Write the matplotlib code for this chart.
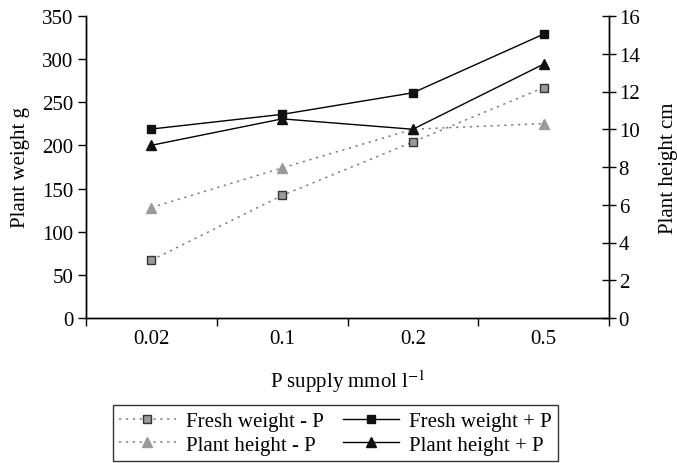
import numpy as np
import matplotlib
matplotlib.use("Agg")
from matplotlib import pyplot as plt

plt.rcParams['font.family'] = ['Liberation Serif', 'DejaVu Serif']
plt.rcParams['mathtext.fontset'] = 'stix'

categorias = ["0.02", "0.1", "0.2", "0.5"]
peso_menos_p = [67, 142, 204, 267]       # g
peso_mas_p = [219, 236, 261, 329]        # g
altura_menos_p = [5.85, 7.95, 10.0, 10.3]   # cm
altura_mas_p = [9.15, 10.55, 10.0, 13.45]   # cm

x = np.arange(len(categorias))
fs = 15

fig = plt.figure(figsize=(6.77, 4.64), dpi=100)
ax = fig.add_axes([86/677, 1 - 319/464, (609 - 86)/677, (319 - 17)/464])
ax2 = ax.twinx()

gris_linea = "#808080"
gris = "#9a9a9a"

l1, = ax.plot(x, peso_menos_p, linestyle=(0, (1.5, 3)), color=gris_linea, lw=1.1,
              marker="s", ms=5.5, mfc=gris, mec="#333333", mew=1.0)
l2, = ax.plot(x, peso_mas_p, color="black", lw=1.0,
              marker="s", ms=6, mfc="#111111", mec="#111111")
l3, = ax2.plot(x, altura_menos_p, linestyle=(0, (1.5, 3)), color=gris_linea, lw=1.1,
               marker="^", ms=7, mfc=gris, mec=gris)
l4, = ax2.plot(x, altura_mas_p, color="black", lw=1.0,
               marker="^", ms=7, mfc="#111111", mec="#111111")

ax.set_xlim(-0.5, len(categorias) - 0.5)
ax.set_ylim(0, 350)
ax.set_yticks(np.arange(0, 351, 50))
ax2.set_ylim(0, 16)
ax2.set_yticks(np.arange(0, 17, 2))

ax.set_xticks(np.arange(-0.5, len(categorias), 1.0))
ax.set_xticklabels([])
ax.set_xticks(x, minor=True)
ax.set_xticklabels(categorias, minor=True)
ax.tick_params(axis="x", which="major", direction="out", length=6, width=1)
ax.tick_params(axis="x", which="minor", length=0, pad=8, labelsize=fs)
ax.tick_params(axis="y", direction="out", length=6, width=1, labelsize=fs, pad=3)
ax2.tick_params(axis="y", direction="inout", length=10, width=1, labelsize=fs, pad=2)

for a in (ax, ax2):
    a.spines["top"].set_visible(False)
    for s in a.spines.values():
        s.set_linewidth(1.0)

ax.set_ylabel("Plant weight g", fontsize=fs, labelpad=9)
ax2.set_ylabel("Plant height cm", fontsize=fs, labelpad=14)
ax.set_xlabel(r"P supply mmol l$^{-1}$", fontsize=fs, labelpad=14)

# ncol=2 llena por columnas
leg = fig.legend([l1, l3, l2, l4],
                 ["Fresh weight - P", "Plant height - P", "Fresh weight + P", "Plant height + P"],
                 ncol=2, loc="upper left", bbox_to_anchor=(113/677, 1 - 406/464),
                 fontsize=fs, frameon=True, fancybox=False, handlelength=2.7,
                 columnspacing=0.9, handletextpad=0.5, labelspacing=0.2,
                 borderpad=0.3, borderaxespad=0)
leg.get_frame().set_edgecolor("black")
leg.get_frame().set_linewidth(1.0)

fig.savefig("out.png", dpi=100)
